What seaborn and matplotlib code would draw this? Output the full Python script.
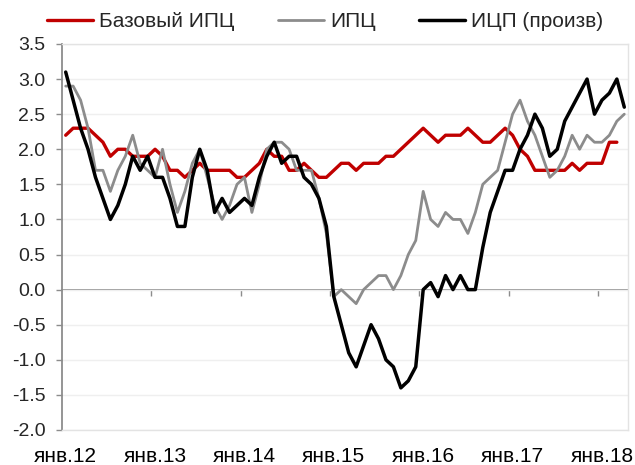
import numpy as np
import pandas as pd
import seaborn as sns
import matplotlib
matplotlib.use("Agg")
import matplotlib.pyplot as plt

# месячные данные, янв.2012 - апр.2018 (% г/г)
core_cpi = [2.2, 2.3, 2.3, 2.3, 2.2, 2.1, 1.9, 2.0, 2.0, 1.9, 1.9, 1.9,
            2.0, 1.9, 1.7, 1.7, 1.6, 1.7, 1.8, 1.7, 1.7, 1.7, 1.7, 1.6,
            1.6, 1.7, 1.8, 2.0, 1.9, 1.9, 1.7, 1.7, 1.8, 1.7, 1.6, 1.6,
            1.7, 1.8, 1.8, 1.7, 1.8, 1.8, 1.8, 1.9, 1.9, 2.0, 2.1, 2.2,
            2.3, 2.2, 2.1, 2.2, 2.2, 2.2, 2.3, 2.2, 2.1, 2.1, 2.2, 2.3,
            2.2, 2.0, 1.9, 1.7, 1.7, 1.7, 1.7, 1.7, 1.8, 1.7, 1.8, 1.8,
            1.8, 2.1, 2.1, np.nan]
cpi = [2.9, 2.9, 2.7, 2.3, 1.7, 1.7, 1.4, 1.7, 1.9, 2.2, 1.8, 1.7,
       1.6, 2.0, 1.5, 1.1, 1.4, 1.8, 2.0, 1.6, 1.2, 1.0, 1.2, 1.5,
       1.6, 1.1, 1.5, 2.0, 2.1, 2.1, 2.0, 1.7, 1.7, 1.7, 1.3, 0.8,
       -0.1, 0.0, -0.1, -0.2, 0.0, 0.1, 0.2, 0.2, 0.0, 0.2, 0.5, 0.7,
       1.4, 1.0, 0.9, 1.1, 1.0, 1.0, 0.8, 1.1, 1.5, 1.6, 1.7, 2.1,
       2.5, 2.7, 2.4, 2.2, 1.9, 1.6, 1.7, 1.9, 2.2, 2.0, 2.2, 2.1,
       2.1, 2.2, 2.4, 2.5]
ppi = [3.1, 2.7, 2.3, 2.0, 1.6, 1.3, 1.0, 1.2, 1.5, 1.9, 1.7, 1.9,
       1.6, 1.6, 1.3, 0.9, 0.9, 1.6, 2.0, 1.7, 1.1, 1.3, 1.1, 1.2,
       1.3, 1.2, 1.6, 1.9, 2.1, 1.8, 1.9, 1.9, 1.6, 1.5, 1.3, 0.9,
       -0.1, -0.5, -0.9, -1.1, -0.8, -0.5, -0.7, -1.0, -1.1, -1.4, -1.3, -1.1,
       0.0, 0.1, -0.1, 0.2, 0.0, 0.2, 0.0, 0.0, 0.6, 1.1, 1.4, 1.7,
       1.7, 2.0, 2.2, 2.5, 2.3, 1.9, 2.0, 2.4, 2.6, 2.8, 3.0, 2.5,
       2.7, 2.8, 3.0, 2.6]
tick_labels = ["янв.12", "янв.13", "янв.14", "янв.15", "янв.16", "янв.17", "янв.18"]

df = pd.DataFrame({"month": np.arange(len(cpi)),
                   "Базовый ИПЦ": core_cpi,
                   "ИПЦ": cpi,
                   "ИЦП (произв)": ppi})

sns.set_theme(style="white")
plt.rcParams["font.family"] = ["Liberation Sans", "DejaVu Sans"]

fig = plt.figure(figsize=(6.35, 4.65), dpi=100)
ax = fig.add_axes([0.0976, 0.0753, 0.8914, 0.8301])

colors = {"Базовый ИПЦ": "#c00000", "ИПЦ": "#8c8c8c", "ИЦП (произв)": "#000000"}
widths = {"Базовый ИПЦ": 2.4, "ИПЦ": 2.0, "ИЦП (произв)": 2.5}
for name in ["Базовый ИПЦ", "ИПЦ", "ИЦП (произв)"]:
    sns.lineplot(data=df, x="month", y=name, ax=ax, color=colors[name],
                 linewidth=widths[name], label=name)

ax.set_xlim(-0.5, len(cpi) - 0.5)
ax.set_ylim(-2.0, 3.5)
ax.set_yticks(np.arange(-2.0, 3.51, 0.5))
ax.set_yticklabels([f"{v:.1f}" for v in np.arange(-2.0, 3.51, 0.5)])
ax.set_xticks(np.arange(0, len(cpi), 12))
ax.set_xticklabels(tick_labels)
ax.set_xlabel("")
ax.set_ylabel("")
ax.grid(axis="y", color="#efefef", linewidth=1.0)
ax.set_axisbelow(True)

for side in ["top", "right", "bottom"]:
    ax.spines[side].set_color("#e3e3e3")
    ax.spines[side].set_linewidth(1.0)
ax.spines["left"].set_color("#8c8c8c")
ax.spines["left"].set_linewidth(1.3)

ax.tick_params(axis="x", length=0, pad=12, labelsize=15, colors="#000000")
ax.tick_params(axis="y", length=4, width=1, color="#8c8c8c", pad=8,
               labelsize=14, left=True)

# ось X проходит через ноль
sec = ax.secondary_xaxis(2.0 / 5.5)
sec.set_xticks(np.arange(11.5, len(cpi), 12))
sec.set_xticklabels([])
sec.tick_params(length=4, width=1, color="#8c8c8c", direction="out")
sec.spines["bottom"].set_color("#8c8c8c")
sec.spines["bottom"].set_linewidth(1.3)

ax.legend(loc="center", bbox_to_anchor=(0.465, 1.057), ncol=3, frameon=False,
          fontsize=15, handlelength=2.2, handletextpad=0.3, columnspacing=2.1,
          borderaxespad=0)

fig.savefig("out.png", dpi=100)
